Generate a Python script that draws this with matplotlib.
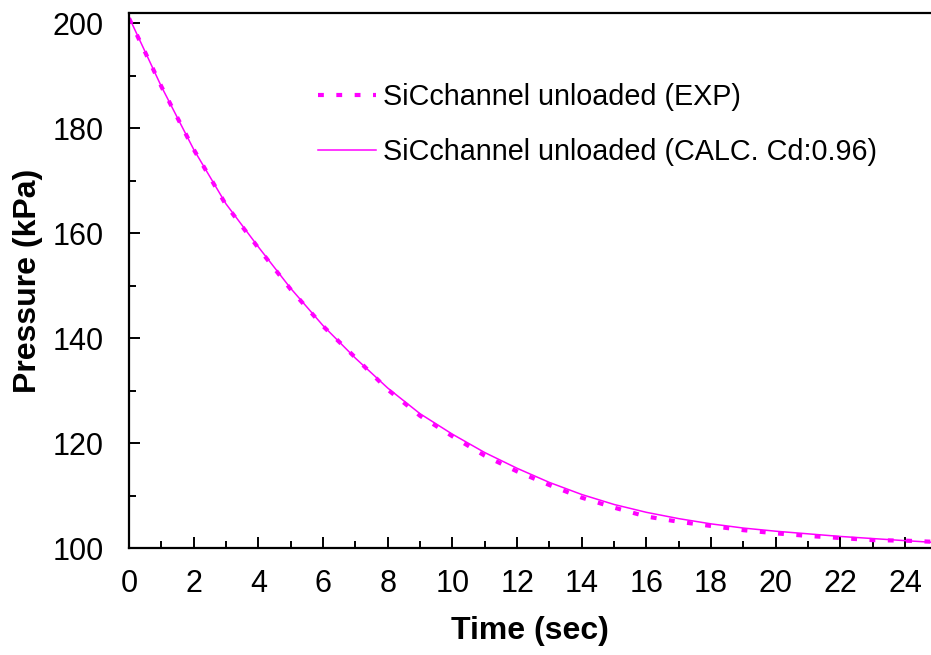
import matplotlib
matplotlib.use('Agg')
import matplotlib.pyplot as plt
from matplotlib.ticker import MultipleLocator

plt.rcParams['font.family'] = ['Liberation Sans', 'DejaVu Sans']

# time axis (sec)
time = [0, 1, 2, 3, 4, 5, 6, 7, 8, 9, 10, 11, 12, 13, 14, 15, 16, 17, 18, 19,
        20, 21, 22, 23, 24, 24.8]

# measured pressure (kPa)
p_exp = [201.0, 188.0, 176.0, 165.4, 157.2, 149.3, 142.3, 136.3, 130.2, 125.2,
         121.3, 117.6, 114.6, 112.0, 109.6, 107.7, 106.0, 105.0, 104.2, 103.4,
         102.8, 102.3, 101.9, 101.5, 101.4, 101.2]

# calculated pressure, Cd = 0.96
p_calc = [201.2, 188.0, 176.0, 165.6, 157.4, 149.5, 142.4, 136.2, 130.5, 125.6,
          121.7, 118.2, 115.2, 112.5, 110.2, 108.3, 106.8, 105.6, 104.6, 103.8,
          103.2, 102.7, 102.2, 101.8, 101.4, 101.1]

lbl_exp = 'SiCchannel unloaded (EXP)'
lbl_calc = 'SiCchannel unloaded (CALC. Cd:0.96)'

fig = plt.figure(figsize=(9.31, 6.55), dpi=100)
ax = fig.add_axes([129/931, 1 - 548/655, 1 - 129/931, (548 - 13)/655])

ax.plot(time, p_exp, color='#FF00FF', lw=3.0, ls=(0, (1.4, 3.0)),
        dash_capstyle='butt', label=lbl_exp)
ax.plot(time, p_calc, color='#FF00FF', lw=1.1, label=lbl_calc)

ax.set_xlim(0, 24.8)
ax.set_ylim(100, 202)
ax.xaxis.set_major_locator(MultipleLocator(2))
ax.xaxis.set_minor_locator(MultipleLocator(1))
ax.yaxis.set_major_locator(MultipleLocator(20))
ax.yaxis.set_minor_locator(MultipleLocator(10))

ax.tick_params(which='both', direction='in', width=1.4, labelsize=22)
ax.tick_params(which='major', length=8)
ax.tick_params(which='minor', length=5)
ax.tick_params(axis='x', pad=15)
ax.tick_params(axis='y', pad=18)

for s in ['left', 'bottom', 'top']:
    ax.spines[s].set_linewidth(1.6)
ax.spines['right'].set_visible(False)

ax.set_xlabel('Time (sec)', fontsize=23, fontweight='bold', labelpad=12)
ax.set_ylabel('Pressure (kPa)', fontsize=23, fontweight='bold', labelpad=7)

ax.legend(loc='upper left', bbox_to_anchor=(318/931, 1 - 83/655),
          bbox_transform=fig.transFigure, frameon=False, fontsize=20.7,
          handlelength=2.0, handletextpad=0.25, labelspacing=0.95,
          borderaxespad=0, borderpad=0)

fig.savefig('out.png', dpi=100)
